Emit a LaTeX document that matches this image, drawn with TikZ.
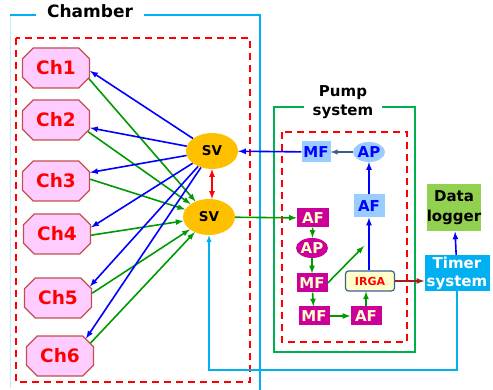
\documentclass[tikz,border=0pt]{standalone}
\usepackage{fontspec}
\setmainfont{DejaVu Sans}
\usetikzlibrary{shapes.misc,shapes.geometric}

\definecolor{chambercyan}{HTML}{00B0F0}
\definecolor{pumpgreen}{HTML}{00B050}
\definecolor{chpink}{HTML}{FFCCFF}
\definecolor{chedge}{HTML}{C0504D}
\definecolor{svyellow}{HTML}{FFC000}
\definecolor{magbox}{HTML}{CC0099}
\definecolor{magtext}{HTML}{FFFFCC}
\definecolor{paleblue}{HTML}{99CCFF}
\definecolor{steel}{HTML}{3A5F8A}
\definecolor{loggergreen}{HTML}{92D050}
\definecolor{darkred}{HTML}{A01E1E}
\definecolor{flowgreen}{HTML}{009900}

\tikzset{
  chbox/.style={chamfered rectangle, chamfered rectangle xsep=10pt,
    draw=chedge, fill=chpink, line width=1.3pt, minimum width=67pt,
    minimum height=40pt, inner sep=0pt, text=red,
    font=\fontsize{18.5}{18.5}\selectfont\bfseries},
  valve/.style={ellipse, fill=svyellow, minimum width=52pt,
    minimum height=36pt, inner sep=0pt,
    font=\fontsize{13.5}{13.5}\selectfont\bfseries},
  bluebox/.style={rectangle, fill=paleblue, text=blue, inner sep=0pt,
    minimum width=29pt, minimum height=21pt,
    font=\fontsize{15}{15}\selectfont\bfseries},
  magbox/.style={rectangle, fill=magbox, text=magtext, inner sep=0pt,
    minimum width=31pt, minimum height=19pt,
    font=\fontsize{15}{15}\selectfont\bfseries},
  dashbox/.style={draw=red, line width=1.5pt, dash pattern=on 7pt off 5pt},
  bluearrow/.style={-latex, blue, line width=1.6pt},
  greenarrow/.style={-latex, flowgreen, line width=1.6pt},
}

\begin{document}
\begin{tikzpicture}[x=1pt,y=-1pt]
  \useasboundingbox (0,0) rectangle (493,390);
  % chamber
  \draw[chambercyan!25, line width=1pt] (10,15) -- (10,388);
  \draw[chambercyan, line width=1.2pt] (10,15) -- (260,15) -- (260,390);
  \draw[dashbox] (16,38) rectangle (250,382);
  \node[fill=white, inner xsep=11pt, inner ysep=1pt,
    font=\fontsize{17}{17}\selectfont\bfseries] (chamber) at (90,11) {Chamber};
  % pump system
  \draw[pumpgreen, line width=1.5pt] (274,107) rectangle (415,352);
  \draw[dashbox] (282,132) rectangle (407,342);
  \node[fill=white, inner xsep=9pt, inner ysep=1pt, align=center,
    font=\fontsize{15}{19}\selectfont\bfseries] (pump) at (343,102) {Pump\\system};

  \foreach \i/\x/\y in {1/56/68, 2/56/120, 3/56/181, 4/57/234, 5/58/298, 6/60/356}
    \node[chbox] (ch\i) at (\x,\y) {Ch\i};

  \node[valve] (sv1) at (212,151) {SV};
  \node[valve] (sv2) at (209,217) {SV};

  \node[bluebox] (mfa) at (316,152) {MF};
  \node[bluebox, ellipse, minimum width=31pt, minimum height=20pt] (apa) at (369,152) {AP};
  \node[bluebox, minimum width=31pt, minimum height=23pt] (afa) at (369,206) {AF};

  \node[magbox, minimum width=32pt] (afm) at (313,218) {AF};
  \node[magbox, ellipse, minimum height=20pt] (apm) at (312,248) {AP};
  \node[magbox] (mfm1) at (312,283) {MF};
  \node[magbox] (mfm2) at (314,316) {MF};
  \node[magbox] (afm2) at (366,316) {AF};
  \node[draw=steel, fill=magtext, rounded corners=3pt, line width=1.2pt,
    minimum width=49pt, minimum height=20pt, inner sep=0pt, text=red,
    font=\fontsize{11}{11}\selectfont\bfseries] (irga) at (370,281) {IRGA};

  \node[fill=loggergreen, minimum width=54pt, minimum height=47pt, inner sep=0pt,
    align=center, font=\fontsize{15}{20}\selectfont\bfseries] (logger) at (454,208) {Data\\logger};
  \node[fill=chambercyan, text=white, minimum width=65pt, minimum height=36pt,
    inner sep=0pt, align=center, font=\fontsize{15}{18}\selectfont\bfseries]
    (timer) at (457,273) {Timer\\system};

  \coordinate (mfend) at (364,246);
  \coordinate (loop) at (0,370);

  % chamber lines
  \foreach \i/\b/\g in {1/-5/-18, 2/-13/-20, 3/14/3, 4/11/-2, 5/20/8, 6/34/23}{
    \draw[bluearrow] (sv1) -- (ch\i.\b);
    \draw[greenarrow] (ch\i.\g) -- (sv2);
  }
  \draw[latex-latex, red, line width=1.6pt] (sv1.south) -- (sv1.south |- sv2.north);

  % pump lines
  \draw[bluearrow] (mfa) -- (sv1);
  \draw[-latex, steel, line width=1.4pt] (apa) -- (mfa);
  \draw[bluearrow] (afa) -- (apa);
  \draw[bluearrow] (irga.north -| afa) -- (afa);
  \draw[greenarrow] (sv2) -- (afm);
  \draw[greenarrow] (afm) -- (apm);
  \draw[greenarrow] (apm) -- (mfm1);
  \draw[greenarrow] (mfm1) -- (mfm2);
  \draw[greenarrow] (mfm2) -- (afm2);
  \draw[greenarrow] (afm2) -- (afm2 |- irga.south);
  \draw[greenarrow] (mfm1.east) -- (mfend);
  \draw[-latex, darkred, line width=1.6pt] (irga.east) -- (irga.east -| timer.west);
  \draw[bluearrow] (timer) -- (logger);
  \draw[-latex, chambercyan, line width=1.4pt] (timer.south) -- (timer.south |- loop) -| (sv2.south);
\end{tikzpicture}
\end{document}
